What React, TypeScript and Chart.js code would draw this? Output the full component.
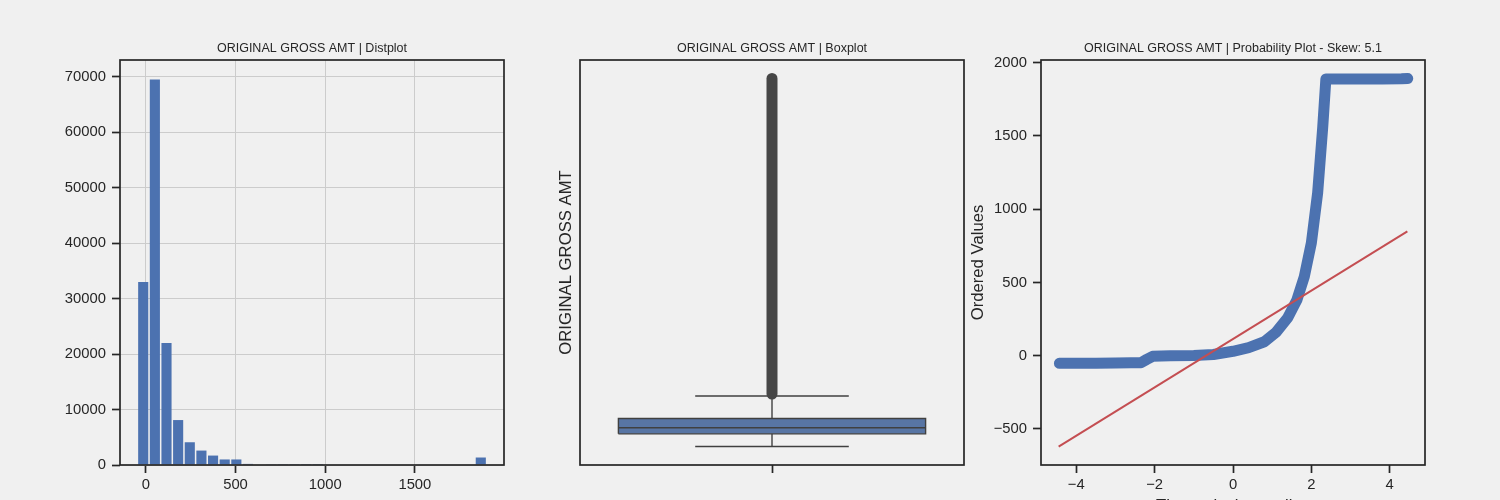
import { useEffect, useRef } from 'react';
import { Chart, registerables } from 'chart.js';
import type { ChartConfiguration } from 'chart.js';

Chart.register(...registerables);

const FONT = '"Liberation Sans", Arial, sans-serif';
const TEXT = '#262626';
const BLUE = '#4c72b0';
const RED = '#c44e52';
const BOX_FILL = '#5875a4';
const BOX_LINE = '#404040';

Chart.defaults.font.family = FONT;
Chart.defaults.color = TEXT;

const TITLE = 'ORIGINAL GROSS AMT';

// histogram: 30 bins starting at -47, each ~64.9 wide
const histStart = -47;
const histBinWidth = 64.9;
const histCounts = [
    33000, 69500, 22000, 8100, 4100, 2600, 1700, 1000, 1000, 200,
    90, 50, 30, 20, 10, 5, 0, 0, 0, 0,
    0, 0, 0, 0, 0, 0, 0, 0, 0, 1350,
];
const histXTicks = [0, 500, 1000, 1500];
const histYTicks = [0, 10000, 20000, 30000, 40000, 50000, 60000, 70000];

// boxplot stats
const whiskerLow = -52;
const q1 = 15;
const median = 47;
const q3 = 96;
const whiskerHigh = 216;
const outlierLow = 226;
const outlierHigh = 1898;

// probability plot
const qqTheoretical = [
    -4.43, -4.2, -3.5, -3.0, -2.6, -2.35, -2.2, -2.05, -1.6, -1.0,
    -0.5, 0.0, 0.4, 0.8, 1.1, 1.4, 1.63, 1.82, 2.0, 2.16,
    2.29, 2.37, 3.0, 3.8, 4.3, 4.46,
];
const qqOrdered = [
    -52, -51, -51, -50, -49, -48, -25, -4, 0, 2,
    8, 30, 55, 95, 160, 260, 380, 540, 770, 1110,
    1560, 1888, 1889, 1889, 1890, 1892,
];
const fitX = [-4.45, 4.45];
const fitY = [-621, 849];
const probXTicks = [-4, -2, 0, 2, 4];
const probYTicks = [-500, 0, 500, 1000, 1500, 2000];

const tickFont = { size: 14.8 };
const labelFont = { size: 16.7 };
const fmt = (v: number | string) => String(v).replace('-', '\u2212');
const fixedTicks = (values: number[]) => (s: any) => {
    s.ticks = values.map((value) => ({ value }));
};

const framePlugin = {
    id: 'frame',
    afterDatasetsDraw(chart: Chart) {
        const { ctx, chartArea } = chart;
        ctx.save();
        ctx.strokeStyle = TEXT;
        ctx.lineWidth = 1.7;
        ctx.strokeRect(chartArea.left, chartArea.top, chartArea.right - chartArea.left, chartArea.bottom - chartArea.top);
        ctx.restore();
    },
};

const panelTitle = (text: string) => ({
    display: true,
    text,
    fullSize: false,
    color: TEXT,
    font: { size: 12.5, weight: 'normal' },
    padding: { top: 40.9, bottom: 4.1 },
});

const tickGrid = (onArea: boolean) => ({
    display: true,
    drawOnChartArea: onArea,
    color: '#cccccc',
    lineWidth: 1,
    tickColor: TEXT,
    tickLength: 8,
    tickWidth: 1.7,
});

const baseOptions = (padRight: number) => ({
    animation: false as const,
    responsive: false,
    events: [],
    layout: { padding: { left: 0, right: padRight, top: 0, bottom: 0 } },
});

const line = (pts: { x: number; y: number }[], color: string, width: number, extra: object = {}) => ({
    data: pts,
    showLine: true,
    borderColor: color,
    borderWidth: width,
    pointRadius: 0,
    fill: false,
    tension: 0,
    ...extra,
});

function histConfig(): ChartConfiguration {
    return {
        type: 'bar',
        data: {
            datasets: [
                {
                    data: histCounts.map((c, i) => ({ x: histStart + (i + 0.5) * histBinWidth, y: c })),
                    backgroundColor: BLUE,
                    borderWidth: 0,
                    barPercentage: 0.87,
                    categoryPercentage: 1,
                } as any,
            ],
        },
        options: {
            ...baseOptions(16),
            plugins: { legend: { display: false }, tooltip: { enabled: false }, title: panelTitle(`${TITLE} | Distplot`) },
            scales: {
                x: {
                    type: 'linear',
                    min: -144,
                    max: 1997,
                    offset: false,
                    afterBuildTicks: fixedTicks(histXTicks),
                    ticks: { font: tickFont, padding: 3, callback: fmt, maxRotation: 0, autoSkip: false },
                    grid: { ...tickGrid(true), offset: false },
                    border: { display: false },
                    afterFit: (s: any) => { s.height = 35; },
                },
                y: {
                    min: 0,
                    max: 73000,
                    afterBuildTicks: fixedTicks(histYTicks),
                    ticks: { font: tickFont, padding: 6, callback: fmt, autoSkip: false },
                    grid: tickGrid(true),
                    border: { display: false },
                    afterFit: (s: any) => { s.width = 120; },
                },
            },
        } as any,
        plugins: [framePlugin],
    };
}

function boxConfig(): ChartConfiguration {
    const boxHalf = 0.4;
    const capHalf = 0.2;
    return {
        type: 'scatter',
        data: {
            datasets: [
                line([{ x: 0, y: outlierLow }, { x: 0, y: outlierHigh }], '#464646', 11, { borderCapStyle: 'round' }),
                line([{ x: 0, y: q3 }, { x: 0, y: whiskerHigh }], BOX_LINE, 1.4),
                line([{ x: 0, y: whiskerLow }, { x: 0, y: q1 }], BOX_LINE, 1.4),
                line([{ x: -capHalf, y: whiskerHigh }, { x: capHalf, y: whiskerHigh }], BOX_LINE, 1.4),
                line([{ x: -capHalf, y: whiskerLow }, { x: capHalf, y: whiskerLow }], BOX_LINE, 1.4),
                line([{ x: -boxHalf, y: median }, { x: boxHalf, y: median }], BOX_LINE, 1.4),
                line(
                    [
                        { x: -boxHalf, y: q1 },
                        { x: boxHalf, y: q1 },
                        { x: boxHalf, y: q3 },
                        { x: -boxHalf, y: q3 },
                        { x: -boxHalf, y: q1 },
                    ],
                    BOX_LINE,
                    1.4,
                ),
                line([{ x: -boxHalf, y: q3 }, { x: boxHalf, y: q3 }], BOX_FILL, 0, {
                    fill: { value: q1 },
                    backgroundColor: BOX_FILL,
                }),
            ] as any,
        },
        options: {
            ...baseOptions(2),
            plugins: { legend: { display: false }, tooltip: { enabled: false }, title: panelTitle(`${TITLE} | Boxplot`) },
            scales: {
                x: {
                    type: 'linear',
                    min: -0.5,
                    max: 0.5,
                    afterBuildTicks: fixedTicks([0]),
                    ticks: { callback: () => '', font: tickFont, padding: 3 },
                    grid: tickGrid(false),
                    border: { display: false },
                    afterFit: (s: any) => { s.height = 35; },
                },
                y: {
                    type: 'linear',
                    min: -150,
                    max: 1996,
                    ticks: { display: false },
                    grid: { display: false },
                    border: { display: false },
                    title: { display: true, text: TITLE, font: labelFont, color: TEXT, padding: { top: 36, bottom: 0 } },
                    afterFit: (s: any) => { s.width = 60; },
                },
            },
        } as any,
        plugins: [framePlugin],
    };
}

function probConfig(): ChartConfiguration {
    return {
        type: 'scatter',
        data: {
            datasets: [
                line(fitX.map((x, i) => ({ x, y: fitY[i] })), RED, 2),
                line(qqTheoretical.map((x, i) => ({ x, y: qqOrdered[i] })), BLUE, 11, {
                    borderCapStyle: 'round',
                    borderJoinStyle: 'round',
                }),
            ] as any,
        },
        options: {
            ...baseOptions(75),
            plugins: {
                legend: { display: false },
                tooltip: { enabled: false },
                title: panelTitle(`${TITLE} | Probability Plot - Skew: 5.1`),
            },
            scales: {
                x: {
                    type: 'linear',
                    min: -4.9,
                    max: 4.9,
                    afterBuildTicks: fixedTicks(probXTicks),
                    ticks: { font: tickFont, padding: 3, callback: fmt, maxRotation: 0, autoSkip: false },
                    grid: tickGrid(false),
                    border: { display: false },
                    title: { display: true, text: 'Theoretical quantiles', font: labelFont, color: TEXT, padding: { top: 0, bottom: 4 } },
                    afterFit: (s: any) => { s.height = 55; },
                },
                y: {
                    type: 'linear',
                    min: -746,
                    max: 2018,
                    afterBuildTicks: fixedTicks(probYTicks),
                    ticks: { font: tickFont, padding: 6, callback: fmt, autoSkip: false },
                    grid: tickGrid(false),
                    border: { display: false },
                    title: { display: true, text: 'Ordered Values', font: labelFont, color: TEXT, padding: { top: 2.2, bottom: 0 } },
                    afterFit: (s: any) => { s.width = 75; },
                },
            },
        } as any,
        plugins: [framePlugin],
    };
}

function Panel({ left, width, height, build }: { left: number; width: number; height: number; build: () => ChartConfiguration }) {
    const canvasRef = useRef<HTMLCanvasElement>(null);

    useEffect(() => {
        if (!canvasRef.current) return;
        const chart = new Chart(canvasRef.current, build());
        return () => {
            chart.destroy();
        };
    }, [build]);

    return (
        <canvas
            ref={canvasRef}
            width={width}
            height={height}
            style={{ position: 'absolute', left, top: 0, width, height }}
        />
    );
}

export default function App() {
    return (
        <div
            style={{
                position: 'absolute',
                left: 0,
                top: 0,
                width: 1500,
                height: 500,
                overflow: 'hidden',
                background: '#f0f0f0',
            }}
        >
            <Panel left={0} width={520} height={500} build={histConfig} />
            <Panel left={520} width={446} height={500} build={boxConfig} />
            <Panel left={966} width={534} height={520} build={probConfig} />
        </div>
    );
}
